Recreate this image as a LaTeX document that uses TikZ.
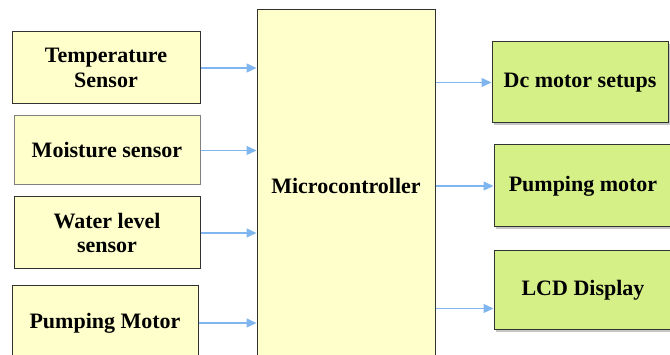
\documentclass[tikz,border=0pt]{standalone}
\usepackage{fontspec}
\setmainfont{Liberation Serif}
\usepackage{tikz}
\usetikzlibrary{arrows.meta, shadows}
\definecolor{boxyellow}{RGB}{255, 255, 204}
\definecolor{boxgreen}{RGB}{214, 240, 136}
\definecolor{wireblue}{RGB}{128, 182, 240}
\definecolor{edgegray}{RGB}{50, 50, 50}
\tikzset{
    sensor/.style={rectangle, draw=edgegray, fill=boxyellow, line width=1pt, align=center, inner sep=0pt, font=\fontsize{22}{24.5}\selectfont\bfseries},
    mcubox/.style={sensor, anchor=center},
    output/.style={sensor, fill=boxgreen, drop shadow={shadow xshift=2pt, shadow yshift=-2pt, opacity=0.45}},
    link/.style={draw, -{Triangle[length=10pt, width=9pt]}, wireblue, line width=1.4pt}
}

\begin{document}
\begin{tikzpicture}[x=1pt, y=-1pt]
    \useasboundingbox (0,0) rectangle (670,355);
    \clip (0,0) rectangle (670,355);

    % Controller in the middle
    \node[mcubox, minimum width=178pt, minimum height=352pt] (mcu) at (346,186) {Microcontroller};

    % Inputs on the left
    \node[sensor, minimum width=188pt, minimum height=72pt] (temp) at (106,68) {Temperature\\Sensor};
    \node[sensor, draw=gray, minimum width=186pt, minimum height=69pt] (moist) at (107,150.5) {Moisture sensor};
    \node[sensor, minimum width=186pt, minimum height=72pt] (water) at (107,233) {Water level\\sensor};
    \node[sensor, minimum width=186pt, minimum height=74pt] (pumpin) at (105,323) {Pumping Motor};

    % Outputs on the right
    \node[output, minimum width=176pt, minimum height=81pt] (dc) at (580,82.5) {Dc motor setups};
    \node[output, minimum width=178pt, minimum height=82pt] (pumpout) at (583,186) {Pumping motor};
    \node[output, minimum width=178pt, minimum height=79pt] (lcd) at (583,290.5) {LCD Display};

    % Wiring
    \foreach \src in {temp, moist, water, pumpin}
        \draw[link] (\src.east) -- (\src.east -| mcu.west);
    \draw[link] (mcu.east |- dc.west) -- (dc.west);
    \draw[link] (mcu.east |- pumpout.west) -- (pumpout.west);
    \draw[link] ([yshift=-18pt]lcd.west -| mcu.east) -- ([yshift=-18pt]lcd.west);
\end{tikzpicture}
\end{document}
